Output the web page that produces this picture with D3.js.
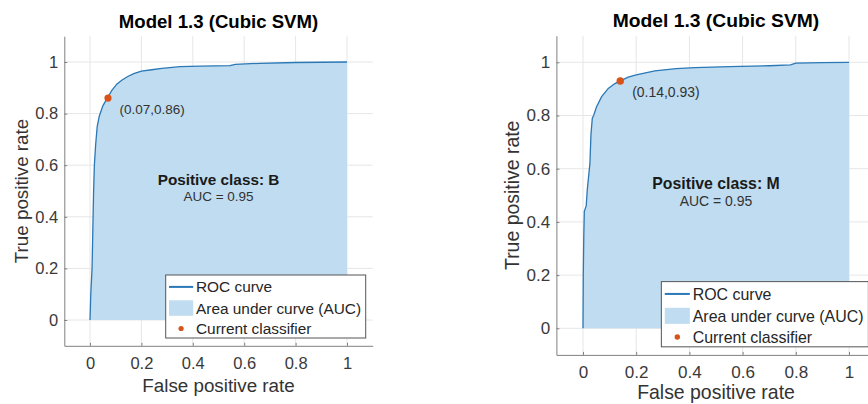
<!DOCTYPE html>
<html>
<head>
<meta charset="utf-8">
<script src="https://cdn.jsdelivr.net/npm/d3@7"></script>
<style>
  html, body { margin: 0; padding: 0; background: #fff; }
  svg { display: block; font-family: "Liberation Sans", Arial, Helvetica, sans-serif; }
</style>
</head>
<body>
<svg id="chart" width="868" height="404"></svg>
<script>
// ---------- data ----------
const titleText = "Model 1.3 (Cubic SVM)";
const xLabelText = "False positive rate";
const yLabelText = "True positive rate";
const ticks = [0, 0.2, 0.4, 0.6, 0.8, 1];
const tickLabels = ["0", "0.2", "0.4", "0.6", "0.8", "1"];
const legendLabels = ["ROC curve", "Area under curve (AUC)", "Current classifier"];
const positiveClasses = ["B", "M"];
const aucValues = [0.95, 0.95];

// ROC curve, positive class B
const fprB = [0, 0.003, 0.008, 0.011, 0.014, 0.017, 0.022, 0.028, 0.036, 0.05, 0.067, 0.085, 0.105, 0.125, 0.145, 0.17, 0.2, 0.24, 0.28, 0.35, 0.43, 0.545, 0.565, 0.66, 0.8, 0.9, 1];
const tprB = [0, 0.1, 0.2, 0.35, 0.5, 0.6, 0.68, 0.75, 0.79, 0.83, 0.86, 0.89, 0.915, 0.93, 0.943, 0.955, 0.965, 0.97, 0.975, 0.982, 0.984, 0.986, 0.991, 0.995, 0.998, 0.999, 1];
// ROC curve, positive class M
const fprM = [0, 0.001, 0.003, 0.005, 0.012, 0.016, 0.02, 0.026, 0.03, 0.035, 0.04, 0.051, 0.07, 0.095, 0.12, 0.14, 0.17, 0.2, 0.27, 0.35, 0.42, 0.55, 0.7, 0.78, 0.8, 0.9, 1];
const tprM = [0, 0.2, 0.35, 0.44, 0.46, 0.52, 0.56, 0.62, 0.73, 0.79, 0.8, 0.833, 0.871, 0.902, 0.92, 0.93, 0.944, 0.953, 0.968, 0.976, 0.98, 0.984, 0.987, 0.99, 0.997, 0.999, 1];

const currentB = [0.07, 0.86];
const currentM = [0.14, 0.93];
const currentLabels = ["(0.07,0.86)", "(0.14,0.93)"];

// ---------- layout ----------
const panels = [
  { fpr: fprB, tpr: tprB, cur: currentB, curLabel: currentLabels[0], cls: positiveClasses[0], auc: aucValues[0],
    left: 64.3, right: 372.7, top: 36.2, bottom: 345.8, s: 1 },
  { fpr: fprM, tpr: tprM, cur: currentM, curLabel: currentLabels[1], cls: positiveClasses[1], auc: aucValues[1],
    left: 556.4, right: 875.6, top: 35.7, bottom: 354.9, s: 1.035 }
];

const lineColor = "#2a78b6";
const fillColor = "#bfdcf0";
const dotColor = "#d95319";
const axisColor = "#808080";
const gridColor = "#e6e6e6";
const textColor = "#333333";

const svg = d3.select("#chart");

panels.forEach(p => {
  const s = p.s;
  const x = d3.scaleLinear().domain([-0.1, 1.1]).range([p.left, p.right]);
  const y = d3.scaleLinear().domain([-0.1, 1.1]).range([p.bottom, p.top]);
  const g = svg.append("g");

  // grid
  g.append("g").selectAll("line").data(ticks).join("line")
    .attr("x1", d => x(d)).attr("x2", d => x(d))
    .attr("y1", p.top).attr("y2", p.bottom)
    .attr("stroke", gridColor).attr("stroke-width", 1);
  g.append("g").selectAll("line").data(ticks).join("line")
    .attr("y1", d => y(d)).attr("y2", d => y(d))
    .attr("x1", p.left).attr("x2", p.right)
    .attr("stroke", gridColor).attr("stroke-width", 1);

  const pts = p.fpr.map((f, i) => [f, p.tpr[i]]);

  // area under curve
  const area = d3.area().x(d => x(d[0])).y0(y(0)).y1(d => y(d[1]));
  g.append("path").datum(pts).attr("d", area).attr("fill", fillColor);

  // ROC line
  const line = d3.line().x(d => x(d[0])).y(d => y(d[1]));
  g.append("path").datum(pts).attr("d", line)
    .attr("fill", "none").attr("stroke", lineColor).attr("stroke-width", 1.3);

  // current classifier
  g.append("circle").attr("cx", x(p.cur[0])).attr("cy", y(p.cur[1])).attr("r", 3.6 * s).attr("fill", dotColor);
  g.append("text").attr("x", x(p.cur[0]) + 11.5 * s).attr("y", y(p.cur[1]) + 15.5 * s)
    .attr("font-size", 13.5 * s).attr("fill", textColor).text(p.curLabel);

  // center text
  g.append("text").attr("x", x(0.5)).attr("y", y(0.546) + 5.5 * s).attr("text-anchor", "middle")
    .attr("font-size", 15.3 * s).attr("font-weight", "bold").attr("fill", "#1a1a1a")
    .text("Positive class: " + p.cls);
  g.append("text").attr("x", x(0.5)).attr("y", y(0.48) + 5 * s).attr("text-anchor", "middle")
    .attr("font-size", 13.5 * s).attr("fill", textColor)
    .text("AUC = " + p.auc.toFixed(2));

  // axes
  const xAxis = d3.axisBottom(x).tickValues(ticks).tickFormat((d, i) => tickLabels[i])
    .tickSizeInner(-3).tickSizeOuter(0).tickPadding(11 * s);
  const xg = g.append("g").attr("transform", `translate(0,${p.bottom})`).call(xAxis);
  const yAxis = d3.axisLeft(y).tickValues(ticks).tickFormat((d, i) => tickLabels[i])
    .tickSizeInner(-3).tickSizeOuter(0).tickPadding(6 * s);
  const yg = g.append("g").attr("transform", `translate(${p.left},0)`).call(yAxis);
  [xg, yg].forEach(a => {
    a.select(".domain").attr("stroke", axisColor).attr("stroke-width", 1);
    a.selectAll(".tick line").attr("stroke", axisColor);
    a.selectAll(".tick text").attr("fill", "#3a3a3a").attr("font-size", 16.5 * s)
      .attr("font-family", "Liberation Sans, Arial, sans-serif");
  });

  // labels
  g.append("text").attr("x", x(0.5)).attr("y", Math.min(p.bottom + 46.5 * s, 399)).attr("text-anchor", "middle")
    .attr("font-size", 18.8 * s).attr("fill", "#333").text(xLabelText);
  g.append("text")
    .attr("transform", `translate(${p.left - 42.6 * s + 6.5 * s},${y(0.5)}) rotate(-90)`)
    .attr("text-anchor", "middle").attr("font-size", 18.8 * s).attr("fill", "#333").text(yLabelText);
  g.append("text").attr("x", x(0.5)).attr("y", p.top - 8.5 * s).attr("text-anchor", "middle")
    .attr("font-size", 18.6 * s).attr("font-weight", "bold").attr("fill", "#000").text(titleText);

  // legend
  const lw = 200 * s, lh = 63 * s;
  const lx = p.right - 7 * s - lw, ly = p.bottom - 7.8 * s - lh;
  const lg = g.append("g").attr("transform", `translate(${lx},${ly})`);
  lg.append("rect").attr("x", 0).attr("y", 0).attr("width", lw).attr("height", lh)
    .attr("fill", "#fff").attr("stroke", "#555").attr("stroke-width", 1);
  const rows = [11.9, 33.3, 53.5].map(v => v * s);
  lg.append("line").attr("x1", 3.3 * s).attr("x2", 27.5 * s).attr("y1", rows[0]).attr("y2", rows[0])
    .attr("stroke", lineColor).attr("stroke-width", 2);
  lg.append("rect").attr("x", 3.3 * s).attr("y", rows[1] - 8 * s).attr("width", 24.2 * s).attr("height", 15.5 * s)
    .attr("fill", fillColor);
  lg.append("circle").attr("cx", 15.4 * s).attr("cy", rows[2]).attr("r", 2.6 * s).attr("fill", dotColor);
  lg.selectAll("text.leg").data(legendLabels).join("text").attr("class", "leg")
    .attr("x", 30.3 * s).attr("y", (d, i) => rows[i] + 5.4 * s)
    .attr("font-size", 15.4 * s).attr("fill", "#262626").text(d => d);
});
</script>
</body>
</html>
